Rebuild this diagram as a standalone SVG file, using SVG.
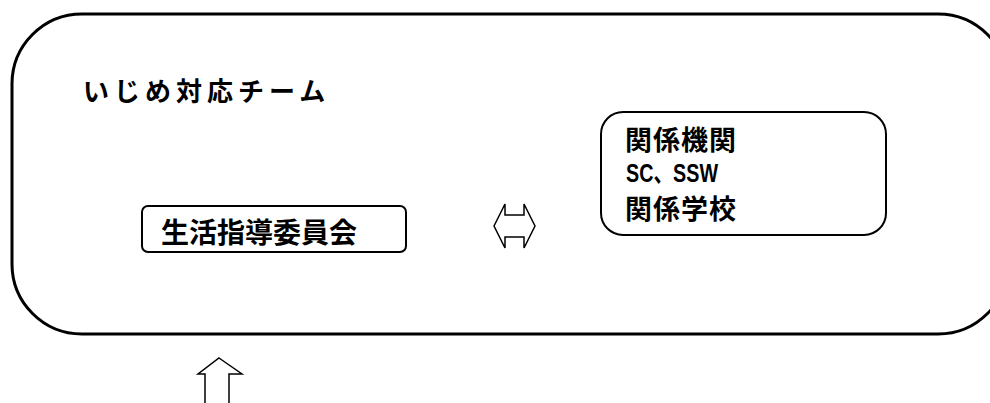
<svg xmlns="http://www.w3.org/2000/svg" width="990" height="403" viewBox="0 0 990 403">
<style>
.box{fill:#fff;stroke:#000;stroke-width:2}
.big{fill:none;stroke:#000;stroke-width:3}
.arr{fill:#fff;stroke:#000;stroke-width:1.5;stroke-linejoin:miter}
.t{font-family:"Noto Sans CJK JP","Liberation Sans",sans-serif;font-weight:bold;fill:#000}
.l{font-family:"Liberation Sans","Noto Sans CJK JP",sans-serif;font-weight:bold;fill:#000}
</style>
<rect width="990" height="403" fill="#fff"/>
<g id="team">
<rect class="big" x="12" y="14" width="996" height="320" rx="70" ry="70"/>
<text class="t" x="83" y="101" font-size="26" letter-spacing="5">いじめ対応チーム</text>
</g>
<g id="committee">
<rect class="box" x="142" y="206" width="264" height="46" rx="6" ry="6"/>
<text class="t" x="161" y="243" font-size="28">生活指導委員会</text>
</g>
<g id="agencies">
<rect class="box" x="601" y="112" width="285" height="123" rx="22" ry="22"/>
<text class="t" x="625" y="150" font-size="27" letter-spacing="1">関係機関</text>
<text class="l" x="626" y="182" font-size="26" textLength="92" lengthAdjust="spacingAndGlyphs">SC、SSW</text>
<text class="t" x="625" y="219" font-size="27" letter-spacing="1">関係学校</text>
</g>
<g id="connectors">
<path class="arr" d="M494,226 L505,204 L505,215 L524,215 L524,204 L535,226 L524,248 L524,237 L505,237 L505,248 Z"/>
<path class="arr" d="M219,358 L242,374 L229,374 L229,405 L205,405 L205,374 L198,374 Z"/>
</g>
</svg>
